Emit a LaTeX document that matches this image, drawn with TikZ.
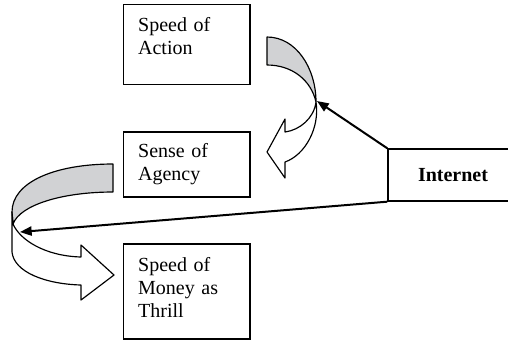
\documentclass[tikz,border=0pt]{standalone}
\usepackage{fontspec}
\setmainfont{Liberation Serif}
\usetikzlibrary{arrows.meta}
\definecolor{bandgray}{RGB}{209,210,212}

\tikzset{
  conceptbox/.style={draw, line width=0.8pt, align=left, text width=58pt,
    inner xsep=9pt, font=\fontsize{12}{13.8}\selectfont},
  band/.style={draw, line width=0.7pt, line join=round},
  link/.style={line width=1.2pt, -{Triangle[length=7pt,width=5.5pt]}},
}

\begin{document}
\begin{tikzpicture}[x=0.6pt,y=-0.6pt]
\useasboundingbox (0,0) rectangle (508,342);

\node[conceptbox, minimum height=48pt, text depth=24pt] (action) at (186.5,44.5) {Speed of\\Action};
\node[conceptbox, minimum height=39pt] (agency) at (186.5,164.5) {Sense of\\Agency};
\node[conceptbox, minimum height=57pt, text depth=33pt] (thrill) at (186.5,291.5) {Speed of\\Money as\\Thrill};
\node[draw, line width=0.8pt, minimum width=78pt, minimum height=31.2pt,
  font=\fontsize{12}{13.8}\selectfont\bfseries] (inet) at (453,175) {Internet};

% curved arrow from action down to agency
\path[band, fill=bandgray] (267,37) .. controls (296,37) and (316,68) .. (316,102)
  .. controls (311,80) and (292,65) .. (267,65) -- cycle;
\path[band, fill=white] (316,102) .. controls (320,128) and (305,155) .. (285,162)
  -- (285,178) -- (267,152) -- (285,119) -- (285,132)
  .. controls (300,130) and (314,118) .. (316,102) -- cycle;
\coordinate (actiontip) at (317,101);

% curved arrow from agency down to thrill
\path[band, fill=bandgray] (113,164) .. controls (55,164) and (12,182) .. (12,212)
  -- (13,224) .. controls (20,205) and (62,192) .. (113,192) -- cycle;
\path[band, fill=white] (12,212) -- (12,252) .. controls (14,272) and (45,284) .. (81,285)
  -- (81,300) -- (114,275) -- (81,245) -- (81,257)
  .. controls (45,256) and (20,240) .. (13,224) -- cycle;
\coordinate (agencytip) at (20,232);

\draw[link] (inet.north west) -- (actiontip);
\draw[link] (inet.south west) -- (agencytip);
\end{tikzpicture}
\end{document}
